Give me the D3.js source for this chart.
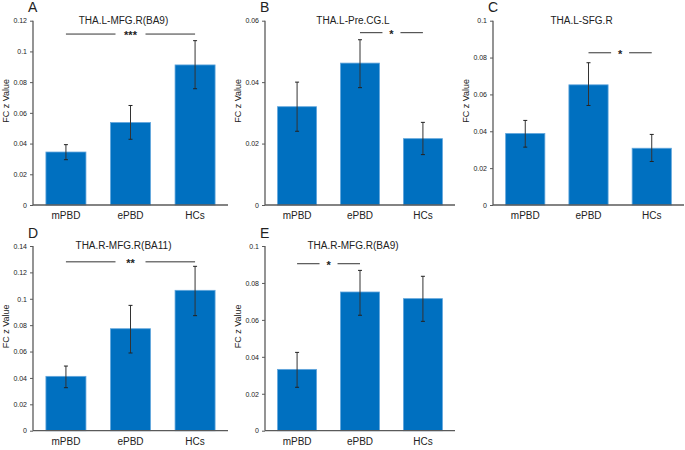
<!DOCTYPE html>
<html>
<head>
<meta charset="utf-8">
<script src="https://cdn.jsdelivr.net/npm/d3@7"></script>
<style>
  html, body { margin: 0; padding: 0; background: #fff; }
  text { font-family: "Liberation Sans", Arial, sans-serif; fill: #222; }
</style>
</head>
<body>
<svg id="chart" width="685" height="450"></svg>
<script>
// ---- data ----
const categories = ["mPBD", "ePBD", "HCs"];
const panelLetters = ["A", "B", "C", "D", "E"];
const panelTitles = ["THA.L-MFG.R(BA9)", "THA.L-Pre.CG.L", "THA.L-SFG.R", "THA.R-MFG.R(BA11)", "THA.R-MFG.R(BA9)"];
const yMaxes = [0.12, 0.06, 0.1, 0.14, 0.1];
const yTickSteps = [0.02, 0.02, 0.02, 0.02, 0.02];
const meansA = [0.0345, 0.0537, 0.0912];
const errLoA = [0.0295, 0.0428, 0.0757];
const errHiA = [0.0393, 0.0648, 0.1070];
const meansB = [0.0320, 0.0462, 0.0216];
const errLoB = [0.0240, 0.0382, 0.0164];
const errHiB = [0.0400, 0.0538, 0.0269];
const meansC = [0.0388, 0.0652, 0.0308];
const errLoC = [0.0314, 0.0540, 0.0236];
const errHiC = [0.0459, 0.0772, 0.0383];
const meansD = [0.0412, 0.0773, 0.1064];
const errLoD = [0.0326, 0.0589, 0.0872];
const errHiD = [0.0490, 0.0950, 0.1246];
const meansE = [0.0332, 0.0751, 0.0715];
const errLoE = [0.0235, 0.0625, 0.0592];
const errHiE = [0.0424, 0.0868, 0.0836];
// significance brackets: [from category, to category, label, level]
const sigFrom = ["mPBD", "ePBD", "ePBD", "mPBD", "mPBD"];
const sigTo = ["HCs", "HCs", "HCs", "HCs", "ePBD"];
const sigLabels = ["***", "*", "*", "**", "*"];
const sigLevels = [0.1113, 0.0561, 0.0826, 0.128, 0.0904];

const means = [meansA, meansB, meansC, meansD, meansE];
const errLo = [errLoA, errLoB, errLoC, errLoD, errLoE];
const errHi = [errHiA, errHiB, errHiC, errHiD, errHiE];

// ---- layout ----
const panelX = [33, 265, 493, 33, 265];
const panelW = [195, 190, 191, 195, 190];
const panelTop = [20.7, 20.7, 20.7, 246, 246];
const panelBottom = [205, 205, 205, 430.7, 430.7];

const svg = d3.select("#chart");
const barFill = "#0070c0";
const barEdge = "#62a6dc";
const axisCol = "#5a5a5a";

panelLetters.forEach((letter, i) => {
  const g = svg.append("g");
  const x = d3.scaleBand().domain(categories)
    .range([panelX[i], panelX[i] + panelW[i]])
    .paddingInner(0.38).paddingOuter(0.2);
  const y = d3.scaleLinear().domain([0, yMaxes[i]])
    .range([panelBottom[i], panelTop[i]]);
  const tickVals = d3.range(0, yMaxes[i] + 1e-9, yTickSteps[i]).map(t => +t.toFixed(4));

  // bars
  g.selectAll("rect.bar").data(categories).join("rect")
    .attr("class", "bar")
    .attr("x", d => x(d))
    .attr("width", x.bandwidth())
    .attr("y", (d, k) => y(means[i][k]))
    .attr("height", (d, k) => y(0) - y(means[i][k]))
    .attr("fill", barFill)
    .attr("stroke", barEdge)
    .attr("stroke-width", 0.8);

  // error bars
  categories.forEach((c, k) => {
    const cx = x(c) + x.bandwidth() / 2;
    g.append("line").attr("x1", cx).attr("x2", cx)
      .attr("y1", y(errLo[i][k])).attr("y2", y(errHi[i][k]))
      .attr("stroke", "#333").attr("stroke-width", 1);
    [errLo[i][k], errHi[i][k]].forEach(v => {
      g.append("line").attr("x1", cx - 2).attr("x2", cx + 2)
        .attr("y1", y(v)).attr("y2", y(v))
        .attr("stroke", "#222").attr("stroke-width", 1);
    });
  });

  // y axis
  const yAxis = d3.axisLeft(y).tickValues(tickVals).tickSize(3).tickPadding(3)
    .tickFormat(d => d === 0 ? "0" : String(+d.toFixed(4)));
  const ya = g.append("g").attr("transform", `translate(${panelX[i]},0)`).call(yAxis);
  ya.select(".domain").attr("stroke", axisCol).attr("stroke-width", 1.3).attr("d", `M0,${y(0)}V${y(yMaxes[i])}`);
  ya.selectAll(".tick line").attr("stroke", axisCol);
  ya.selectAll(".tick text").style("font-size", "7px").attr("fill", "#333")
    .style("font-family", "'Liberation Sans', Arial, sans-serif");

  // x axis
  const xAxis = d3.axisBottom(x).tickSize(0).tickPadding(7);
  const xa = g.append("g").attr("transform", `translate(0,${y(0)})`).call(xAxis);
  xa.select(".domain").attr("stroke", axisCol).attr("stroke-width", 1.3)
    .attr("d", `M${panelX[i]},0H${panelX[i] + panelW[i]}`);
  xa.selectAll(".tick text").style("font-size", "10px").attr("fill", "#222")
    .style("font-family", "'Liberation Sans', Arial, sans-serif");

  // y label
  const midY = (panelTop[i] + panelBottom[i]) / 2 - 12;
  g.append("text")
    .attr("transform", `translate(${panelX[i] - 24},${midY}) rotate(-90)`)
    .attr("text-anchor", "middle")
    .style("font-size", "9px")
    .text("FC z Value");

  // title
  g.append("text")
    .attr("x", x("ePBD") + x.bandwidth() / 2 - 7)
    .attr("y", panelTop[i] + 3.3)
    .attr("text-anchor", "middle")
    .style("font-size", "10px")
    .text(panelTitles[i]);

  // panel letter
  g.append("text")
    .attr("x", panelX[i] - 5)
    .attr("y", panelTop[i] - 8.5)
    .style("font-size", "14px")
    .text(letter);

  // significance bracket
  const x1 = x(sigFrom[i]) + x.bandwidth() / 2;
  const x2 = x(sigTo[i]) + x.bandwidth() / 2;
  const sy = y(sigLevels[i]);
  const mid = (x1 + x2) / 2;
  const gap = sigLabels[i].length === 1 ? 9 : 15;
  g.append("line").attr("x1", x1).attr("x2", mid - gap).attr("y1", sy).attr("y2", sy)
    .attr("stroke", "#333").attr("stroke-width", 1);
  g.append("line").attr("x1", mid + gap).attr("x2", x2).attr("y1", sy).attr("y2", sy)
    .attr("stroke", "#333").attr("stroke-width", 1);
  g.append("text").attr("x", mid).attr("y", sy + 5)
    .attr("text-anchor", "middle").style("font-size", "11px").style("font-weight", "bold")
    .text(sigLabels[i]);
});
</script>
</body>
</html>
